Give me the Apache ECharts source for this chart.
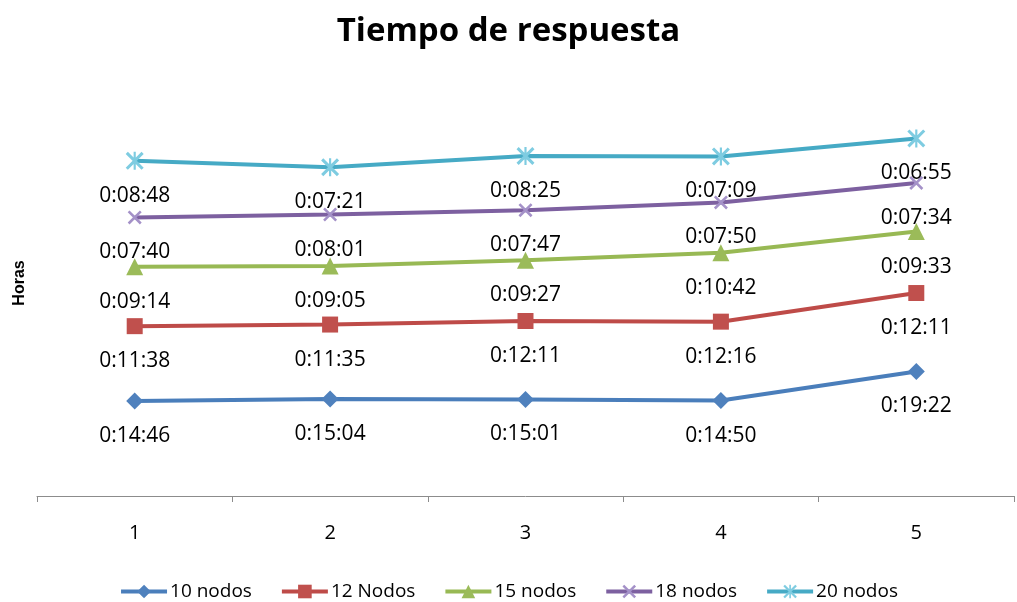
<!DOCTYPE html>
<html>
<head>
<meta charset="utf-8">
<script src="https://cdn.jsdelivr.net/npm/echarts@6/dist/echarts.min.js"></script>
<style>html,body{margin:0;padding:0;background:#fff;}#c{width:1017px;height:602px;}</style>
</head>
<body>
<div id="c"></div>
<script>
var categories = ['1', '2', '3', '4', '5'];
var seriesNames = ['10 nodos', '12 Nodos', '15 nodos', '18 nodos', '20 nodos'];
var nodos10 = ['0:14:46', '0:15:04', '0:15:01', '0:14:50', '0:19:22'];
var nodos12 = ['0:11:38', '0:11:35', '0:12:11', '0:12:16', '0:12:11'];
var nodos15 = ['0:09:14', '0:09:05', '0:09:27', '0:10:42', '0:09:33'];
var nodos18 = ['0:07:40', '0:08:01', '0:07:47', '0:07:50', '0:07:34'];
var nodos20 = ['0:08:48', '0:07:21', '0:08:25', '0:07:09', '0:06:55'];

function toSec(s) { var p = s.split(':').map(Number); return p[0] * 3600 + p[1] * 60 + p[2]; }
function fmt(v) {
  var h = Math.floor(v / 3600), m = Math.floor((v % 3600) / 60), s = v % 60;
  return h + ':' + (m < 10 ? '0' : '') + m + ':' + (s < 10 ? '0' : '') + s;
}

var FONT = 'Open Sans';
var X_PATH = 'path://M0,1.3 L1.3,0 L10,8.7 L8.7,10 Z M8.7,0 L10,1.3 L1.3,10 L0,8.7 Z';
var STAR_PATH = 'path://M0,1.2 L1.2,0 L10,8.8 L8.8,10 Z M8.8,0 L10,1.2 L1.2,10 L0,8.8 Z M4.4,0 L5.6,0 L5.6,10 L4.4,10 Z';

var styles = [
  { line: '#4A7EBB', fill: '#4F81BD', symbol: 'diamond', size: 17 },
  { line: '#BE4B48', fill: '#C0504D', symbol: 'rect', size: 16 },
  { line: '#98B954', fill: '#9BBB59', symbol: 'triangle', size: 17 },
  { line: '#7D60A0', fill: '#A491C8', symbol: X_PATH, size: 14 },
  { line: '#46AAC5', fill: '#7ECCE1', symbol: STAR_PATH, size: 18 }
];
var dataSets = [nodos10, nodos12, nodos15, nodos18, nodos20];

var series = dataSets.map(function (d, i) {
  var st = styles[i];
  return {
    name: seriesNames[i],
    type: 'line',
    stack: 'total',
    data: d.map(toSec),
    symbol: st.symbol,
    symbolSize: st.size,
    lineStyle: { color: st.line, width: 4 },
    itemStyle: { color: st.fill },
    label: {
      show: true,
      position: 'inside',
      offset: [0, 35],
      formatter: function (p) { return fmt(p.value); },
      fontFamily: FONT,
      fontSize: 21,
      color: '#000'
    },
    emphasis: { disabled: true },
    animation: false,
    z: 2 + i
  };
});

var chart = echarts.init(document.getElementById('c'));
chart.setOption({
  animation: false,
  backgroundColor: '#fff',
  title: {
    text: 'Tiempo de respuesta',
    left: 'center',
    top: 10,
    textStyle: { fontFamily: FONT, fontWeight: 'bold', fontSize: 33, color: '#000' }
  },
  legend: {
    data: seriesNames,
    left: 'center',
    top: 577,
    itemWidth: 46,
    itemHeight: 17,
    itemGap: 28,
    lineStyle: { width: 4 },
    textStyle: { fontFamily: FONT, fontSize: 19, color: '#000', padding: [0, 0, 0, -2] }
  },
  graphic: [{
    type: 'text',
    x: 20,
    y: 283,
    rotation: Math.PI / 2,
    style: {
      text: 'Horas',
      fontFamily: 'Liberation Sans',
      fontWeight: 'bold',
      fontSize: 16,
      fill: '#000',
      textAlign: 'center',
      textVerticalAlign: 'middle'
    }
  }],
  grid: { left: 37, right: 3, top: 110, bottom: 106, containLabel: false },
  xAxis: {
    type: 'category',
    data: categories,
    boundaryGap: true,
    axisLine: { lineStyle: { color: '#8C8C8C', width: 1 } },
    axisTick: { show: true, length: 6, lineStyle: { color: '#8C8C8C' } },
    axisLabel: { fontFamily: FONT, fontSize: 20, color: '#000', margin: 27 }
  },
  yAxis: {
    type: 'value',
    min: 0,
    max: 3600,
    show: false,
    splitLine: { show: false }
  },
  series: series
});
</script>
</body>
</html>
